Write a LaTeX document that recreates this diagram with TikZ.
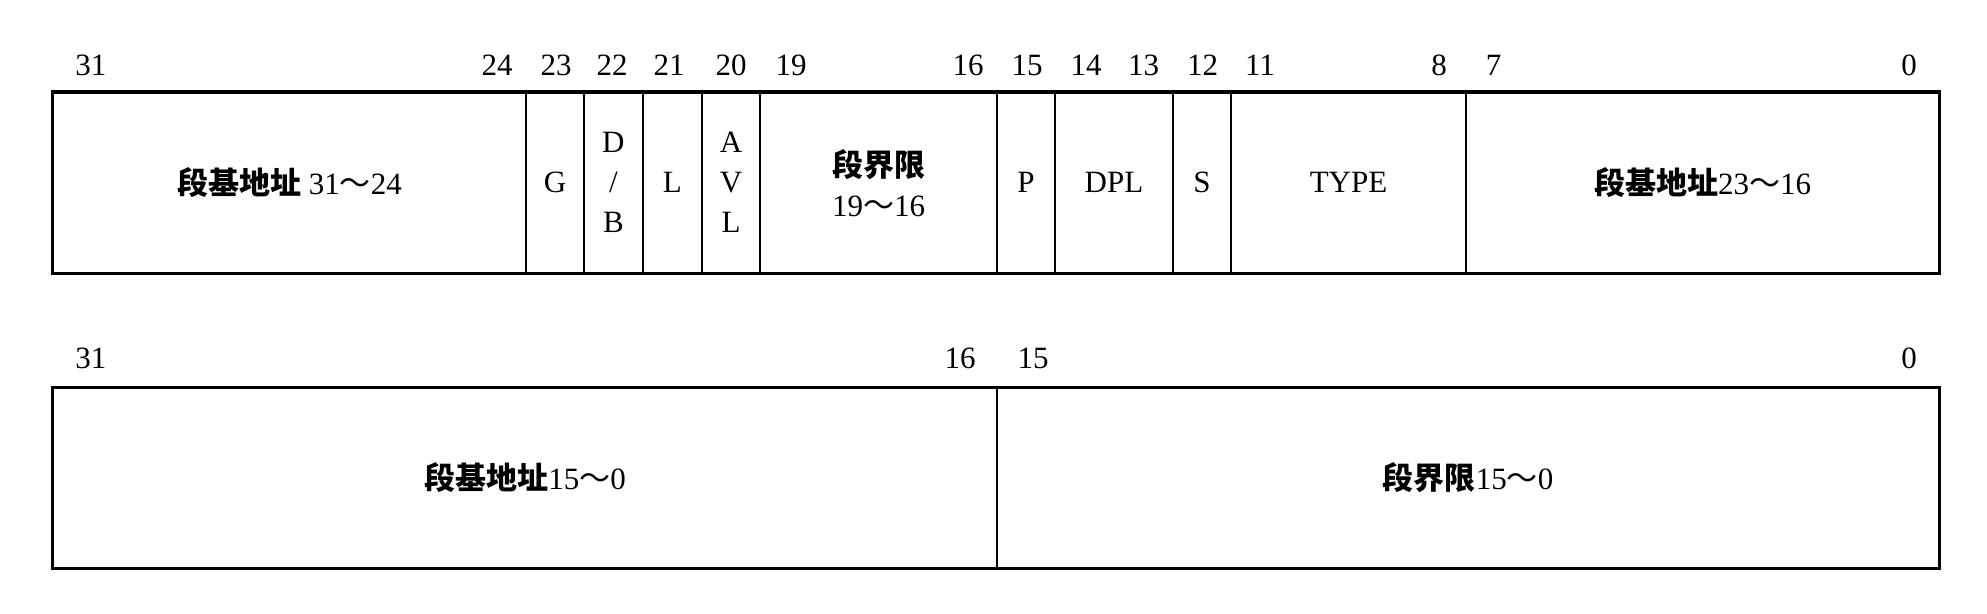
\documentclass[tikz,border=0pt]{standalone}
\usepackage{fontspec}
\setmainfont{Liberation Serif}
\newfontfamily\cjk{Noto Sans CJK SC}
\newcommand{\cjtilde}{{\cjk ～}}
\newcommand{\cjb}[1]{{\cjk\bfseries #1}}
\begin{document}
\begin{tikzpicture}[x=0.5pt,y=-0.5pt,
  every node/.style={font=\fontsize{15.5pt}{20pt}\selectfont},
  field/.style={draw, line width=0.9pt, minimum height=90pt, inner sep=0pt, align=center},
  outer/.style={line width=1.35pt},
  bitlbl/.style={inner sep=0pt}]
\useasboundingbox (0,0) rectangle (1987,614);
% top row fields
\node[field, minimum width=236.5pt] (f1) at (289.5,182.7) {\cjb{段基地址} 31\cjtilde24};
\node[field, minimum width=29pt] (f2) at (555,182.7) {G};
\node[field, minimum width=29.4pt] (f3) at (613.4,182.7) {D\\/\\B};
\node[field, minimum width=29.6pt] (f4) at (672.4,182.7) {L};
\node[field, minimum width=29pt] (f5) at (731,182.7) {A\\V\\L};
\node[field, minimum width=118.5pt] (f6) at (878.5,182.7) {\cjb{段界限}\\19\cjtilde16};
\node[field, minimum width=29pt] (f7) at (1026,182.7) {P};
\node[field, minimum width=59pt] (f8) at (1114,182.7) {DPL};
\node[field, minimum width=29pt] (f9) at (1202,182.7) {S};
\node[field, minimum width=117.5pt] (f10) at (1348.5,182.7) {TYPE};
\node[field, minimum width=236.5pt] (f11) at (1702.5,182.7) {\cjb{段基地址}23\cjtilde16};
\draw[outer] (f1.north west) rectangle (f11.south east);
% top row bit numbers
\node[bitlbl] (t31) at (91,65) {31};
\node[bitlbl] (t24) at (497,65) {24};
\node[bitlbl] (t23) at (556,65) {23};
\node[bitlbl] (t22) at (612,65) {22};
\node[bitlbl] (t21) at (669,65) {21};
\node[bitlbl] (t20) at (731,65) {20};
\node[bitlbl] (t19) at (791,65) {19};
\node[bitlbl] (t16) at (968,65) {16};
\node[bitlbl] (t15) at (1027,65) {15};
\node[bitlbl] (t14) at (1086,65) {14};
\node[bitlbl] (t13) at (1143.5,65) {13};
\node[bitlbl] (t12) at (1202.5,65) {12};
\node[bitlbl] (t11) at (1260,65) {11};
\node[bitlbl] (t8) at (1439,65) {8};
\node[bitlbl] (t7) at (1493.5,65) {7};
\node[bitlbl] (t0) at (1909,65) {0};
% bottom row fields
\node[field, minimum width=472pt] (g1) at (525,478) {\cjb{段基地址}15\cjtilde0};
\node[field, minimum width=471pt] (g2) at (1468,478) {\cjb{段界限}15\cjtilde0};
\draw[outer] (g1.north west) rectangle (g2.south east);
% bottom row bit numbers
\node[bitlbl] (u31) at (91,358) {31};
\node[bitlbl] (u16) at (960,358) {16};
\node[bitlbl] (u15) at (1033,358) {15};
\node[bitlbl] (u0) at (1909,358) {0};
\end{tikzpicture}
\end{document}
